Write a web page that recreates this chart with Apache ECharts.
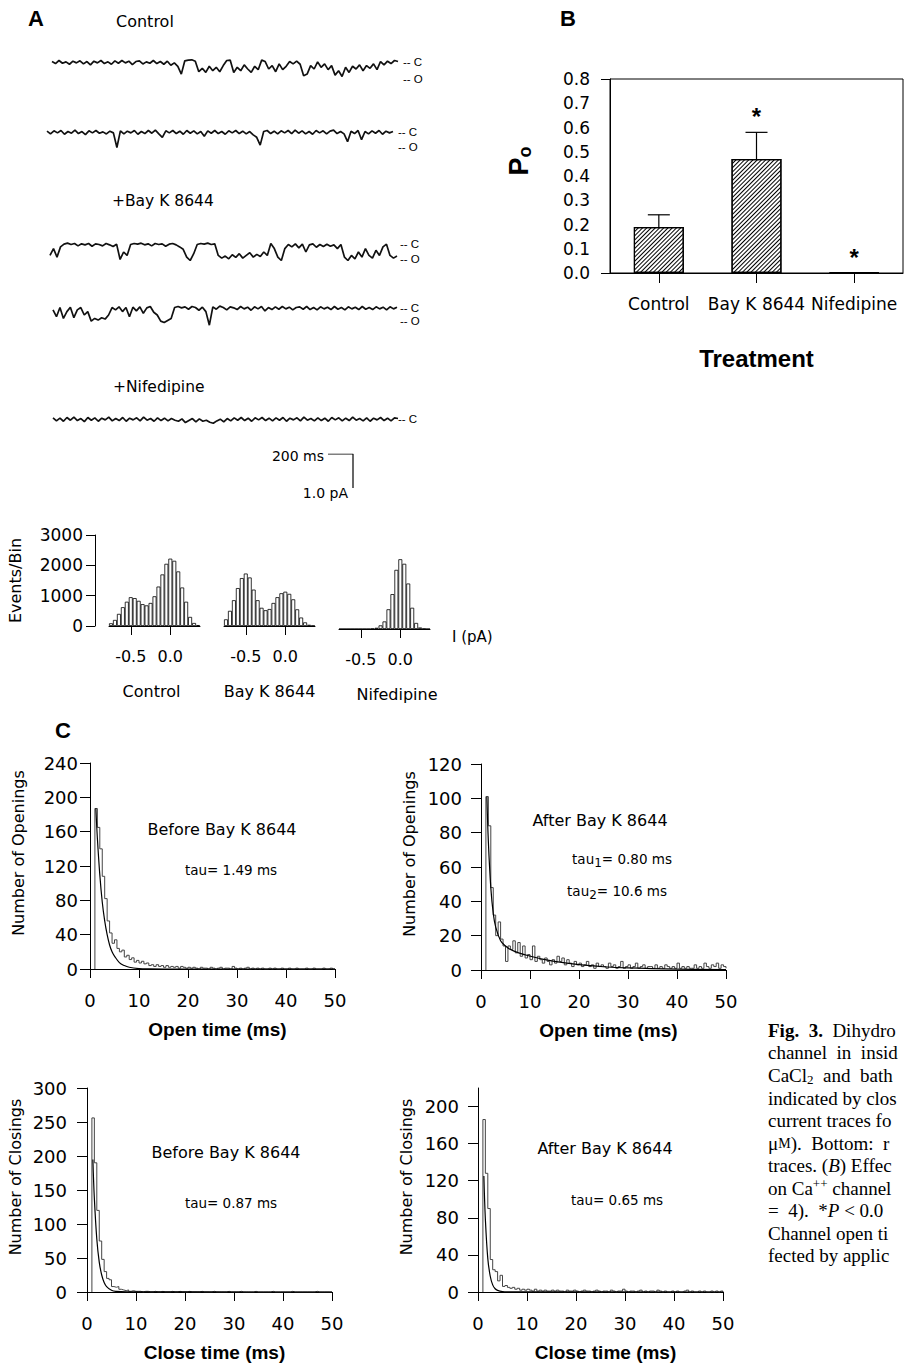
<!DOCTYPE html>
<html><head><meta charset="utf-8">
<script src="https://cdn.jsdelivr.net/npm/echarts@6/dist/echarts.min.js"></script>
<style>html,body{margin:0;padding:0;background:#fff}#c{width:904px;height:1363px}</style>
</head><body><div id="c"></div>
<script>
// ---------- Panel A: single-channel traces (pA, closed = 0) ----------
const traceControl1 = [0.02,-0.04,0.05,-0.03,0.01,-0.06,0.03,-0.02,0.04,-0.05,
 0.02,-0.08,0.03,-0.02,0.05,-0.04,0.01,-0.06,0.04,-0.03,
 0.05,-0.02,0.03,-0.07,0.02,0.04,-0.05,0.01,-0.03,0.05,
 -0.04,0.02,-0.06,0.03,-0.09,-0.02,-0.12,-0.35,0.04,0.06,
 0.07,0.03,-0.28,-0.18,-0.3,-0.12,-0.25,-0.15,-0.28,-0.1,
 0.05,0.06,-0.3,-0.15,-0.25,-0.08,-0.2,-0.3,-0.12,-0.22,
 0.06,0.02,-0.2,-0.1,-0.28,-0.05,-0.22,-0.12,0.02,-0.05,
 0.03,-0.06,-0.4,-0.35,-0.1,-0.2,0.01,-0.15,-0.05,-0.22,
 -0.1,-0.38,-0.25,-0.42,-0.15,-0.3,-0.12,-0.2,-0.08,-0.25,
 -0.1,-0.18,-0.05,-0.22,0.02,-0.08,0.03,-0.04,0.05,0.02];
const traceControl2 = [0.03,-0.05,0.04,-0.02,0.05,-0.06,0.02,-0.03,0.06,-0.04,
 0.02,-0.07,0.04,-0.02,0.05,-0.03,0.01,-0.05,0.03,-0.02,
 -0.45,0.04,-0.05,0.03,-0.02,0.05,-0.06,0.02,-0.04,0.05,
 -0.03,0.06,-0.05,-0.15,0.04,-0.02,0.05,-0.04,0.03,-0.06,
 0.05,-0.03,0.04,-0.05,0.02,-0.12,0.04,-0.03,0.05,-0.04,
 0.02,-0.06,0.04,-0.02,0.05,-0.04,0.03,-0.05,0.02,-0.08,
 -0.15,-0.38,0.02,0.05,-0.04,0.03,-0.05,0.04,-0.02,0.05,
 -0.04,0.06,-0.03,0.04,-0.05,0.02,-0.06,0.05,-0.02,0.04,
 -0.05,0.03,0.06,-0.04,0.02,-0.05,-0.28,0.03,-0.04,0.05,
 -0.22,0.02,-0.05,0.04,-0.03,0.05,-0.06,0.03,-0.02,0.02];
const traceBayK1 = [-0.3,-0.1,-0.35,-0.05,
 0.03,0.06,0.02,0.05,-0.02,0.04,0.01,0.05,-0.03,0.04,0.02,-0.02,0.05,0.01,-0.04,0.03,
 -0.42,-0.2,-0.3,0.02,
 0.05,0.03,0.06,0.01,0.04,-0.02,0.05,0.02,0.04,-0.03,0.03,0.05,0.01,-0.05,-0.12,
 -0.35,-0.45,-0.25,
 0.02,0.05,0.03,0.06,0.02,0.04,
 -0.3,-0.38,-0.32,-0.4,-0.28,-0.36,-0.25,-0.38,-0.3,-0.22,-0.35,-0.27,-0.33,-0.2,-0.3,
 0.05,-0.1,
 -0.35,-0.45,-0.1,
 0.02,-0.05,0.04,-0.08,0.03,-0.2,0.01,0.04,-0.06,0.02,-0.04,0.03,-0.03,0.01,-0.1,0.02,
 -0.35,-0.45,-0.3,-0.4,-0.2,-0.35,-0.1,-0.3,-0.38,-0.15,-0.3,-0.05,
 0.03,-0.3,-0.38,-0.32];
const traceBayK2 = [-0.05,-0.25,0.02,-0.3,-0.1,0.03,-0.28,-0.05,0.02,-0.2,-0.1,
 -0.38,-0.3,-0.35,-0.28,-0.32,-0.2,
 0.02,-0.05,0.04,
 -0.1,0.02,-0.25,0.03,-0.08,0.04,-0.15,0.01,0.05,-0.12,-0.2,
 -0.38,-0.42,-0.36,-0.3,
 0.02,0.05,0.01,0.04,-0.03,0.05,0.02,-0.06,0.03,-0.1,
 -0.5,
 0.04,-0.03,0.06,0.02,-0.05,0.04,0.01,-0.04,0.05,-0.02,
 0.03,-0.06,0.04,-0.02,0.05,-0.08,0.02,-0.04,0.04,-0.03,
 0.05,-0.02,0.03,-0.05,0.02,0.04,-0.03,0.05,-0.04,0.02,
 -0.05,0.04,-0.02,0.03,-0.04,0.05,-0.03,0.02,-0.05,0.04,
 -0.02,0.03,-0.04,0.05,-0.03,0.02,-0.04,0.04,-0.02,0.03,
 -0.05,0.04,-0.02,0.03];
const traceNifedipine = [0.04,-0.05,0.03,-0.06,0.05,-0.03,0.06,-0.04,0.02,-0.07,
 0.05,-0.03,0.04,-0.06,0.03,-0.02,0.06,-0.05,0.02,-0.04,
 0.05,-0.06,0.03,-0.02,0.04,-0.05,0.06,-0.03,0.02,-0.06,
 0.04,-0.04,0.03,-0.05,0.02,-0.03,-0.06,0.01,-0.1,-0.04,
 0.02,-0.08,0.01,-0.06,-0.03,-0.09,-0.12,-0.05,0.0,-0.08,
 0.02,-0.05,0.04,-0.03,0.05,-0.04,0.03,-0.06,0.04,-0.02,
 0.05,-0.04,0.03,-0.05,0.04,-0.03,0.05,-0.06,0.03,-0.02,
 0.04,-0.05,0.06,-0.03,0.02,-0.05,0.04,-0.04,0.03,-0.06,
 0.05,-0.02,0.04,-0.05,0.03,-0.04,0.06,-0.03,0.02,-0.05,
 0.04,-0.06,0.03,-0.02,0.05,-0.04,0.03,-0.05,0.04,0.02];
const scaleBarMs = 200, scaleBarPA = 1.0;

// ---------- Panel A bottom: amplitude histograms ----------
const histBins = [-0.75,-0.70,-0.65,-0.60,-0.55,-0.50,-0.45,-0.40,-0.35,-0.30,-0.25,-0.20,-0.15,-0.10,-0.05,0.00,0.05,0.10,0.15,0.20,0.25,0.30,0.35];
const histControl = [90,200,400,620,800,950,920,830,720,680,760,980,1300,1700,2050,2220,2150,1800,1270,800,300,100,30];
const histBayK = [220,500,850,1250,1580,1730,1600,1200,850,600,520,560,760,950,1080,1130,1060,880,550,280,120,40,10];
const histNifedipine = [0,0,0,0,0,0,0,0,10,40,120,250,650,1150,1950,2300,2150,1500,700,200,50,10,0];
const histTickValues = [-0.5, 0.0];

// ---------- Panel B: open probability ----------
const treatments = ['Control','Bay K 8644','Nifedipine'];
const poMean = [0.19, 0.47, 0.003];
const poSem = [0.05, 0.11, 0];
const poStars = [null, 0.67, 0.09];

// ---------- Panel C: dwell-time histograms (bins from 1 ms, 0.5 ms wide) ----------
const binStartMs = 1.0, binWidthMs = 0.5;
const openBefore = [187,165,140,108,82,56,42,30,34,24,20,22,14,16,11,13,8,10,7,9,6,7,4,5,3,5,3,4,2,4,2,3,2,3,1,3,2,1,2,
 1,2,1,0,2,1,1,0,2,1, 0,1,2,0,1,1,0,3,1,0, 1,0,1,2,0,1,0,1,0,1, 0,0,1,0,1,0,0,1,0,0, 1,0,0,1,0,0,0,1,0,0, 1,0,0,0,1,0,0,1,0,0];
const openAfter = [101,84,48,32,20,28,18,14,5,14,12,17,10,16,8,14,7,9,6,14,5,8,6,4,7,5,3,6,4,8,5,7,3,6,4,2,5,3,4,
 2,3,5,2,3,1,4,2,3,2, 1,4,2,3,1,2,5,1,2,3, 1,2,4,1,2,3,1,2,2,1, 3,1,2,1,3,2,1,2,1,4, 1,2,1,2,1,1,3,1,2,1, 4,2,1,3,2,4,1,3,2,1];
const closeBefore = [256,190,120,75,48,30,20,18,8,7,8,4,3,2,3,1,2,1,1,
 1,0,1,1,0,0,1,0,0,1, 0,0,0,1,0,0,1,0,0,0, 1,0,0,0,0,1,0,0,0,0, 1,0,0,0,0,0,1,0,0,0,
 0,1,0,0,0,0,0,1,0,0, 0,0,0,0,1,0,0,0,0,0, 0,0,1,0,0,0,0,0,0,0, 0,0,1,0,0,0,0,0,0,0];
const closeAfter = [186,128,90,35,24,22,12,18,6,7,5,4,5,3,4,2,3,2,3,
 2,1,3,1,2,1,2,1,1,2, 1,2,1,1,0,2,1,1,2,1, 0,1,2,1,1,0,1,2,1,0, 1,1,0,2,1,0,1,1,3,1,
 0,1,1,0,1,2,0,1,0,1, 1,0,2,1,0,1,0,0,1,0, 1,0,0,1,2,0,1,0,0,1, 0,1,0,0,1,0,1,0,1,0];
// exponential fits as drawn
const fitOpenBeforeX = [1.2,1.5,2,2.5,3,3.5,4,4.5,5,6,7,8,10,12,15,20,50];
const fitOpenBeforeY = [187,153,110,78,56,40,28,20,15,7.5,4,2,0.5,0.1,0,0,0];
const fitOpenAfterX = [1.2,1.5,2,2.5,3,4,5,6,8,10,12,15,20,25,30,40,50];
const fitOpenAfterY = [101,75,48,33,25,17,14,11.9,9.7,8.1,6.7,5,3.1,1.9,1.2,0.5,0.2];
const fitCloseBeforeX = [1.2,1.5,2,2.5,3,3.5,4,5,6,8,50];
const fitCloseBeforeY = [195,138,78,44,25,14,8,2.5,0.8,0.1,0];
const fitCloseAfterX = [1.2,1.5,2,2.5,3,3.5,4,5,6,50];
const fitCloseAfterY = [125,79,36,17,7.7,3.5,1.7,0.4,0.1,0];

// ---------- build ----------
const FONT = 'DejaVu Sans', BFONT = 'Liberation Sans', SERIF = 'Liberation Serif';
const BLACK = '#000';
const grids = [], xAxes = [], yAxes = [], series = [];

// traces
const traces = [traceControl1, traceControl2, traceBayK1, traceBayK2, traceNifedipine];
const traceBoxes = [[52,52,346],[47,122,346],[50,235,347],[53,298,344],[53,409,345]];
traces.forEach((tr, k) => {
  const g = grids.length;
  grids.push({left: traceBoxes[k][0], top: traceBoxes[k][1], width: traceBoxes[k][2], height: 34});
  xAxes.push({gridIndex: g, type: 'category', boundaryGap: false, data: tr.map((_, i) => i), show: false});
  yAxes.push({gridIndex: g, type: 'value', min: -0.7, max: 0.3, show: false});
  series.push({type: 'line', xAxisIndex: g, yAxisIndex: g, data: tr, symbol: 'none',
    lineStyle: {color: '#111', width: 1.7}, silent: true});
});
// scale bar
{
  const g = grids.length;
  grids.push({left: 328, top: 454, width: 25, height: 34});
  xAxes.push({gridIndex: g, type: 'value', min: 0, max: scaleBarMs, show: false});
  yAxes.push({gridIndex: g, type: 'value', min: 0, max: scaleBarPA, show: false});
  series.push({type: 'line', xAxisIndex: g, yAxisIndex: g, symbol: 'none',
    data: [[0, scaleBarPA], [scaleBarMs, scaleBarPA], [scaleBarMs, 0]], lineStyle: {color: BLACK, width: 1.2}});
}
// panel B
const gB = grids.length;
grids.push({left: 610, top: 79, width: 293, height: 194, show: true, borderColor: BLACK, borderWidth: 1});
xAxes.push({gridIndex: gB, type: 'category', data: treatments,
  axisLine: {lineStyle: {color: BLACK, width: 1}},
  axisTick: {show: true, alignWithLabel: true, length: 10, lineStyle: {color: BLACK}},
  axisLabel: {interval: 0, hideOverlap: false, margin: 22, fontSize: 17, fontFamily: FONT, color: BLACK},
  name: 'Treatment', nameLocation: 'middle', nameGap: 73,
  nameTextStyle: {fontFamily: BFONT, fontWeight: 'bold', fontSize: 24, color: BLACK}});
yAxes.push({gridIndex: gB, type: 'value', min: 0, max: 0.8, interval: 0.1,
  axisLine: {show: true, lineStyle: {color: BLACK, width: 1}},
  axisTick: {show: true, length: 9, customValues: [0, 0.8], lineStyle: {color: BLACK}},
  axisLabel: {margin: 20, fontSize: 17, fontFamily: FONT, color: BLACK, formatter: v => v.toFixed(1)},
  splitLine: {show: false}});
series.push({type: 'bar', xAxisIndex: gB, yAxisIndex: gB, data: poMean, barWidth: 50,
  itemStyle: {color: '#fff', borderColor: BLACK, borderWidth: 1.2,
    decal: {symbol: 'rect', symbolSize: 1, color: '#000', dashArrayX: [1, 0], dashArrayY: [1, 2], rotation: -Math.PI / 4}}});
series.push({type: 'custom', xAxisIndex: gB, yAxisIndex: gB,
  data: poMean.map((m, i) => [i, m, poSem[i]]),
  renderItem: (params, api) => {
    const e = api.value(2);
    if (!e) return null;
    const p0 = api.coord([api.value(0), api.value(1)]);
    const p1 = api.coord([api.value(0), api.value(1) + e]);
    const st = {stroke: BLACK, lineWidth: 1.2};
    return {type: 'group', children: [
      {type: 'line', shape: {x1: p0[0], y1: p0[1], x2: p1[0], y2: p1[1]}, style: st},
      {type: 'line', shape: {x1: p1[0] - 11, y1: p1[1], x2: p1[0] + 11, y2: p1[1]}, style: st}]};
  }});
series.push({type: 'scatter', xAxisIndex: gB, yAxisIndex: gB, symbol: 'circle', symbolSize: 2,
  itemStyle: {color: 'rgba(0,0,0,0)'},
  data: poStars.map((v, i) => v == null ? null : [i, v]).filter(d => d),
  label: {show: true, position: 'inside', formatter: '*', fontSize: 24, fontWeight: 'bold', fontFamily: BFONT,
    color: '#000', opacity: 1, offset: [0, 6]}});

// histograms
const histSets = [[histControl, 109, 535, 'Control', [0, 6, 0, 0]], [histBayK, 224, 535, 'Bay K 8644', [0, 0, 0, 0]], [histNifedipine, 339, 538, 'Nifedipine', [0, 0, 0, 25]]];
const isTick = (i, v) => histTickValues.some(t => Math.abs(Number(v) - t) < 1e-9);
histSets.forEach((h, k) => {
  const g = grids.length;
  grids.push({left: h[1], top: h[2], width: 91, height: 91});
  xAxes.push({gridIndex: g, type: 'category', data: histBins.map(String),
    axisLine: {show: true, lineStyle: {color: BLACK, width: 1}},
    axisTick: {show: true, alignWithLabel: true, interval: isTick, length: 9, lineStyle: {color: BLACK}},
    axisLabel: {interval: isTick, margin: 22, fontSize: 16, fontFamily: FONT, color: BLACK, formatter: v => Number(v).toFixed(1)},
    name: h[3], nameLocation: 'middle', nameGap: 57,
    nameTextStyle: {fontSize: 16, fontFamily: FONT, color: BLACK, padding: h[4]}});
  yAxes.push({gridIndex: g, type: 'value', min: 0, max: 3000, interval: 1000, show: k === 0, offset: 14,
    axisLine: {show: true, lineStyle: {color: BLACK, width: 1}},
    axisTick: {show: true, length: 9, lineStyle: {color: BLACK}},
    axisLabel: {margin: 12, fontSize: 17, fontFamily: FONT, color: BLACK, formatter: v => String(v)},
    splitLine: {show: false},
    name: 'Events/Bin', nameLocation: 'middle', nameGap: 72,
    nameTextStyle: {fontSize: 16, fontFamily: FONT, color: BLACK}});
  series.push({type: 'bar', xAxisIndex: g, yAxisIndex: g, data: h[0], barCategoryGap: '0%',
    itemStyle: {color: '#fff', borderColor: BLACK, borderWidth: 0.8}});
});

// panel C
const histLine = counts => [[binStartMs, 0]].concat(counts.map((c, i) => [binStartMs + i * binWidthMs, c]));
const zip = (xs, ys) => xs.map((x, i) => [x, ys[i]]);
const cSets = [
  {left: 90, top: 763, h: 206, max: 240, iv: 40, counts: openBefore, fx: fitOpenBeforeX, fy: fitOpenBeforeY, xn: 'Open time (ms)', yn: 'Number of Openings', lm: 12},
  {left: 481, top: 764, h: 206, max: 120, iv: 20, counts: openAfter, fx: fitOpenAfterX, fy: fitOpenAfterY, xn: 'Open time (ms)', yn: 'Number of Openings', lm: 19},
  {left: 87, top: 1088, h: 205, max: 300, iv: 50, counts: closeBefore, fx: fitCloseBeforeX, fy: fitCloseBeforeY, xn: 'Close time (ms)', yn: 'Number of Closings', lm: 20},
  {left: 478, top: 1088, h: 205, max: 220, iv: 40, counts: closeAfter, fx: fitCloseAfterX, fy: fitCloseAfterY, xn: 'Close time (ms)', yn: 'Number of Closings', lm: 19, custom: [0,40,80,120,160,200]}
];
cSets.forEach(c => {
  const g = grids.length;
  grids.push({left: c.left, top: c.top, width: 245, height: c.h});
  xAxes.push({gridIndex: g, type: 'value', min: 0, max: 50, interval: 10,
    axisLine: {show: true, lineStyle: {color: BLACK, width: 1}},
    axisTick: {show: true, length: 9, lineStyle: {color: BLACK}},
    axisLabel: {margin: 22, fontSize: 18, fontFamily: FONT, color: BLACK},
    splitLine: {show: false},
    name: c.xn, nameLocation: 'middle', nameGap: 51,
    nameTextStyle: {fontFamily: BFONT, fontWeight: 'bold', fontSize: 19, color: BLACK, padding: [0, 0, 0, 10]}});
  const ya = {gridIndex: g, type: 'value', min: 0, max: c.max, interval: c.iv,
    axisLine: {show: true, lineStyle: {color: BLACK, width: 1}},
    axisTick: {show: true, length: 10, lineStyle: {color: BLACK}},
    axisLabel: {margin: c.lm, fontSize: 18, fontFamily: FONT, color: BLACK},
    splitLine: {show: false},
    name: c.yn, nameLocation: 'middle', nameGap: 64,
    nameTextStyle: {fontSize: 16, fontFamily: FONT, color: BLACK, padding: [0, 0, 0, 26]}};
  if (c.custom) { ya.axisLabel.customValues = c.custom; ya.axisTick.customValues = c.custom; }
  yAxes.push(ya);
  series.push({type: 'line', xAxisIndex: g, yAxisIndex: g, data: histLine(c.counts), step: 'end', symbol: 'none',
    lineStyle: {color: '#444', width: 1}});
  series.push({type: 'line', xAxisIndex: g, yAxisIndex: g, data: zip(c.fx, c.fy), smooth: 0.4, symbol: 'none',
    lineStyle: {color: BLACK, width: 1.2}});
});

// ---------- free text ----------
const T = (x, y, text, o = {}) => ({type: 'text', x, y, rotation: o.rot || 0, silent: true,
  style: {text, fill: BLACK, fontFamily: o.ff || FONT, fontSize: o.fs || 16, fontWeight: o.fw || 'normal',
    fontStyle: o.fst || 'normal', align: o.al || 'left', verticalAlign: 'middle', rich: o.rich, lineHeight: o.lh}});
const G = [];
G.push(T(28, 18, 'A', {ff: BFONT, fw: 'bold', fs: 22}));
G.push(T(560, 18, 'B', {ff: BFONT, fw: 'bold', fs: 22}));
G.push(T(55, 730, 'C', {ff: BFONT, fw: 'bold', fs: 22}));
G.push(T(116, 21, 'Control', {fs: 16}));
G.push(T(112, 201, '+Bay K 8644', {fs: 15.5}));
G.push(T(113, 387, '+Nifedipine', {fs: 15.5}));
const mk = [[403,62,'-- C'],[403,79,'-- O'],[398,132,'-- C'],[398,147,'-- O'],[400,244,'-- C'],[400,259,'-- O'],[400,308,'-- C'],[400,321,'-- O'],[398,419,'-- C']];
mk.forEach(m => G.push(T(m[0], m[1], m[2], {ff: BFONT, fs: 11.5})));
G.push(T(324, 456, '200 ms', {fs: 14, al: 'right'}));
G.push(T(348, 493, '1.0 pA', {fs: 14, al: 'right'}));
G.push(T(452, 637, 'I (pA)', {fs: 15}));
G.push(T(519, 161, '{p|P}{o|o}', {rot: Math.PI / 2, al: 'center', rich: {
  p: {fontFamily: BFONT, fontWeight: 'bold', fontSize: 27, lineHeight: 28},
  o: {fontFamily: BFONT, fontWeight: 'bold', fontSize: 18, lineHeight: 18, padding: [12, 0, 0, 0]}}}));
// panel C annotations
G.push(T(222, 829, 'Before Bay K 8644', {al: 'center', fs: 16}));
G.push(T(231, 870, 'tau= 1.49 ms', {al: 'center', fs: 13.5}));
G.push(T(600, 820, 'After Bay K 8644', {al: 'center', fs: 16}));
const tauRich = {a: {fontFamily: FONT, fontSize: 13.5, lineHeight: 16}, s: {fontFamily: FONT, fontSize: 12, lineHeight: 12, padding: [8, 0, 0, 0]}};
G.push(T(622, 859, '{a|tau}{s|1}{a|= 0.80 ms}', {al: 'center', rich: tauRich}));
G.push(T(617, 891, '{a|tau}{s|2}{a|= 10.6 ms}', {al: 'center', rich: tauRich}));
G.push(T(226, 1152, 'Before Bay K 8644', {al: 'center', fs: 16}));
G.push(T(231, 1203, 'tau= 0.87 ms', {al: 'center', fs: 13.5}));
G.push(T(605, 1148, 'After Bay K 8644', {al: 'center', fs: 16}));
G.push(T(617, 1200, 'tau= 0.65 ms', {al: 'center', fs: 13.5}));
// caption (cut at the right edge)
const capRich = {
  n: {fontFamily: SERIF, fontSize: 19, lineHeight: 20},
  b: {fontFamily: SERIF, fontSize: 19, fontWeight: 'bold', lineHeight: 20},
  i: {fontFamily: SERIF, fontSize: 19, fontStyle: 'italic', lineHeight: 20},
  sub: {fontFamily: SERIF, fontSize: 13, lineHeight: 13, padding: [9, 0, 0, 0]},
  sup: {fontFamily: SERIF, fontSize: 13, lineHeight: 13, padding: [0, 0, 9, 0]},
  sc: {fontFamily: SERIF, fontSize: 14, lineHeight: 20}
};
const capLines = [
  '{b|Fig.  3.}{n|  Dihydro}', '{n|channel  in  insid}', '{n|CaCl}{sub|2}{n|  and  bath}', '{n|indicated by clos}',
  '{n|current traces fo}', '{n|μ}{sc|M}{n|).  Bottom:  r}', '{n|traces. (}{i|B}{n|) Effec}', '{n|on Ca}{sup|++}{n| channel}',
  '{n|=  4).  *}{i|P}{n| < 0.0}', '{n|Channel open ti}', '{n|fected by applic}'];
const capY = [1030, 1052, 1075, 1098, 1120, 1143, 1165, 1188, 1210, 1233, 1255];
capLines.forEach((l, i) => G.push(T(768, capY[i], l, {ff: SERIF, fs: 19, rich: capRich})));

const chart = echarts.init(document.getElementById('c'), null, {renderer: 'svg'});
chart.setOption({
  animation: false,
  backgroundColor: '#fff',
  textStyle: {fontFamily: FONT},
  grid: grids, xAxis: xAxes, yAxis: yAxes, series, graphic: G
});
</script>
</body></html>
